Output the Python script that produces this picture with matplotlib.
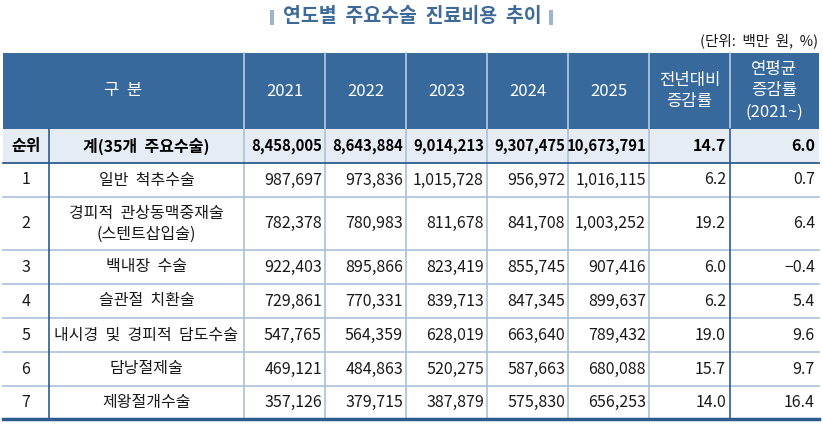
import matplotlib
matplotlib.use("Agg")
import matplotlib.pyplot as plt
from matplotlib.patches import Rectangle

plt.rcParams['font.family'] = ['Noto Sans CJK KR', 'DejaVu Sans']

title = "연도별  주요수술  진료비용  추이"
unit = "(단위:  백만  원,  %)"
years = ["2021", "2022", "2023", "2024", "2025"]
rate_headers = ["전년대비\n증감률", "연평균\n증감률\n(2021~)"]

total_label = "계(35개  주요수술)"
total_values = [8458005, 8643884, 9014213, 9307475, 10673791]
total_rates = [14.7, 6.0]

ranks = ["1", "2", "3", "4", "5", "6", "7"]
surgeries = ["일반  척추수술", "경피적  관상동맥중재술\n(스텐트삽입술)", "백내장  수술",
             "슬관절  치환술", "내시경  및  경피적  담도수술", "담낭절제술", "제왕절개수술"]
costs = [
    [987697, 973836, 1015728, 956972, 1016115],
    [782378, 780983, 811678, 841708, 1003252],
    [922403, 895866, 823419, 855745, 907416],
    [729861, 770331, 839713, 847345, 899637],
    [547765, 564359, 628019, 663640, 789432],
    [469121, 484863, 520275, 587663, 680088],
    [357126, 379715, 387879, 575830, 656253],
]
yoy = [6.2, 19.2, 6.0, 6.2, 19.0, 15.7, 14.0]
cagr = [0.7, 6.4, -0.4, 5.4, 9.6, 9.7, 16.4]

HEAD = "#37699d"
TOTAL_BG = "#e5ecf3"
DARK = "#2c5b8e"
LIGHT = "#a9c0d9"
TEXT = "#1a1a1a"

col_x = [3, 49, 244, 325, 406, 487, 568, 649, 730, 819]
row_y = [53, 129, 163, 197, 250, 284, 318, 352, 386, 419]

fig = plt.figure(figsize=(8.23, 4.26), dpi=100)
ax = fig.add_axes([0, 0, 1, 1])
ax.set_xlim(0, 823)
ax.set_ylim(426, 0)
ax.axis("off")


def fmt(v):
    return f"{v:,}"


def rate(v):
    return f"{v:.1f}".replace("-", "\u2212")


# title and unit
ax.text(412, 17, title, ha="center", va="center", fontsize=14, fontweight="bold", color="#3d6a98")
ax.add_patch(Rectangle((270, 10), 4, 15, color="#9db5d2", lw=0))
ax.add_patch(Rectangle((549, 10), 4, 15, color="#9db5d2", lw=0))
ax.text(818, 41, unit, ha="right", va="center", fontsize=10.5, color=TEXT)

# header
ax.add_patch(Rectangle((col_x[0], row_y[0]), col_x[-1] - col_x[0], row_y[1] - row_y[0], color=HEAD, lw=0))
hy = (row_y[0] + row_y[1]) / 2
hkw = dict(ha="center", va="center", fontsize=12, color="white")
ax.text((col_x[0] + col_x[2]) / 2, hy, "구  분", **hkw)
for i, y in enumerate(years):
    ax.text((col_x[i + 2] + col_x[i + 3]) / 2, hy, y, **hkw)
for i, h in enumerate(rate_headers):
    ax.text((col_x[i + 7] + col_x[i + 8]) / 2, hy, h, linespacing=1.35, **hkw)
for x in col_x[2:-1]:
    ax.plot([x, x], [row_y[0], row_y[1]], color="#b9cbe0", lw=1.2)

# total row
ax.add_patch(Rectangle((col_x[0], row_y[1]), col_x[-1] - col_x[0], row_y[2] - row_y[1], color=TOTAL_BG, lw=0))
ty = (row_y[1] + row_y[2]) / 2
tkw = dict(va="center", fontweight="bold", color="black")
ax.text((col_x[0] + col_x[1]) / 2, ty, "순위", ha="center", fontsize=11.5, **tkw)
ax.text((col_x[1] + col_x[2]) / 2, ty, total_label, ha="center", fontsize=11.5, **tkw)
for i, v in enumerate(total_values):
    ax.text(col_x[i + 3] - 2.5, ty, fmt(v), ha="right", fontsize=10.7, **tkw)
for i, v in enumerate(total_rates):
    ax.text(col_x[i + 8] - 4, ty, rate(v), ha="right", fontsize=11.5, **tkw)

# data rows
for r in range(len(ranks)):
    y0, y1 = row_y[r + 2], row_y[r + 3]
    cy = (y0 + y1) / 2
    ax.text((col_x[0] + col_x[1]) / 2, cy, ranks[r], ha="center", va="center", fontsize=11.5, color=TEXT)
    ax.text((col_x[1] + col_x[2]) / 2, cy, surgeries[r], ha="center", va="center", fontsize=11.5,
            color=TEXT, linespacing=1.3)
    for i, v in enumerate(costs[r]):
        ax.text(col_x[i + 3] - 3, cy, fmt(v), ha="right", va="center", fontsize=11.5, color=TEXT)
    ax.text(col_x[8] - 4, cy, rate(yoy[r]), ha="right", va="center", fontsize=11.5, color=TEXT)
    ax.text(col_x[9] - 4, cy, rate(cagr[r]), ha="right", va="center", fontsize=11.5, color=TEXT)

# grid lines
for y in row_y[3:-1]:
    ax.plot([col_x[0], col_x[-1]], [y, y], color=LIGHT, lw=1.2)
for x in col_x[2:-1]:
    if x == col_x[8]:
        continue
    ax.plot([x, x], [row_y[1], row_y[-1]], color=LIGHT, lw=1.2)
ax.plot([col_x[1], col_x[1]], [row_y[1], row_y[-1]], color=DARK, lw=1.2)
ax.plot([col_x[8], col_x[8]], [row_y[1], row_y[-1]], color=DARK, lw=1.2)
ax.plot([col_x[0], col_x[-1]], [row_y[2], row_y[2]], color=DARK, lw=1.3)
ax.plot([col_x[0], col_x[-1]], [row_y[-1], row_y[-1]], color=DARK, lw=2.5)

fig.savefig("out.png", dpi=100)
